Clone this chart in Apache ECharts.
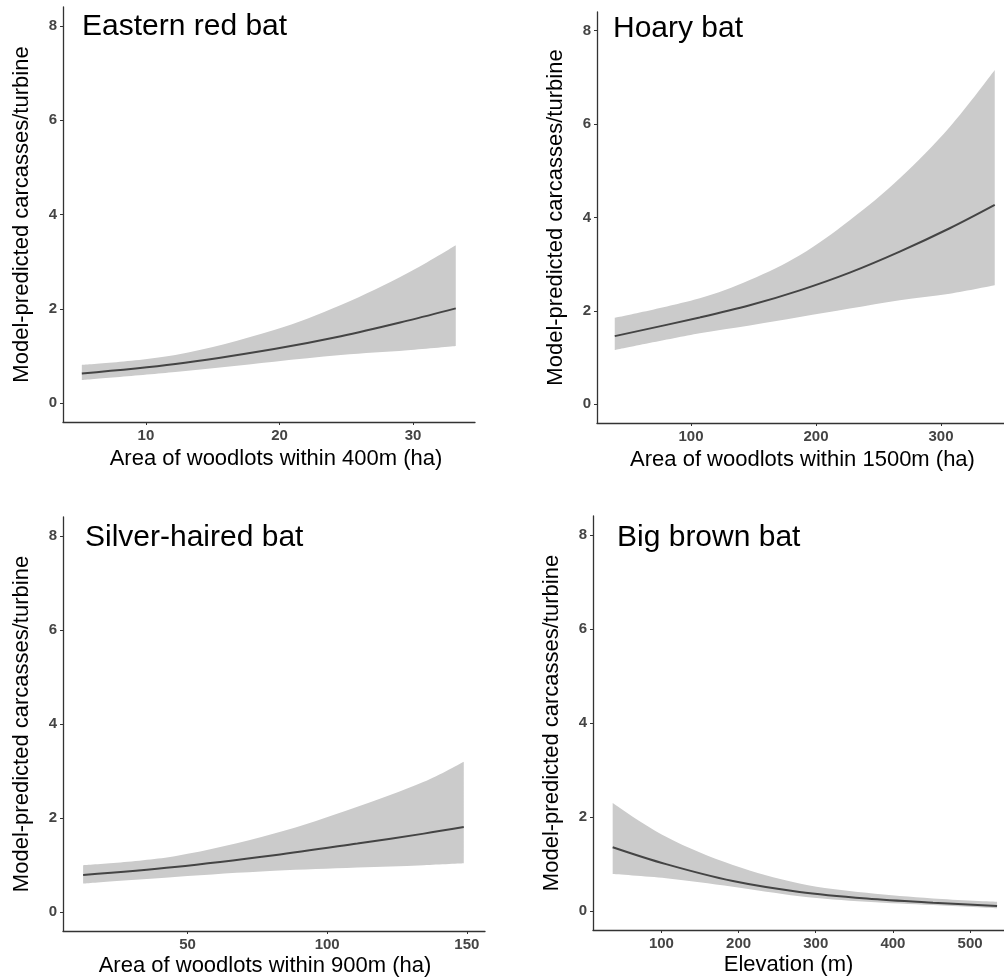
<!DOCTYPE html>
<html>
<head>
<meta charset="utf-8">
<script src="https://cdn.jsdelivr.net/npm/echarts@6/dist/echarts.min.js"></script>
<style>
  html, body { margin: 0; padding: 0; background: #fff; }
  #chart { width: 1004px; height: 980px; }
</style>
</head>
<body>
<div id="chart"></div>
<script>
// panel titles and axis names
var panelTitles = ['Eastern red bat', 'Hoary bat', 'Silver-haired bat', 'Big brown bat'];
var xNames = ['Area of woodlots within 400m (ha)', 'Area of woodlots within 1500m (ha)',
              'Area of woodlots within 900m (ha)', 'Elevation (m)'];
var yName = 'Model-predicted carcasses/turbine';

// tick labels
var yTicks = [0, 2, 4, 6, 8];
var redTicks = [10, 20, 30];
var hoaryTicks = [100, 200, 300];
var silverTicks = [50, 100, 150];
var brownTicks = [100, 200, 300, 400, 500];

// Eastern red bat
var redX    = [5.2, 12.2, 19.6, 24.6, 29.6, 33.2];
var redFit  = [0.63, 0.83, 1.15, 1.42, 1.75, 2.01];
var redLow  = [0.49, 0.66, 0.88, 1.02, 1.12, 1.21];
var redHigh = [0.81, 1.02, 1.55, 2.08, 2.76, 3.35];

// Hoary bat
var hoaryX    = [39, 107, 147, 187, 227, 267, 307, 343];
var hoaryFit  = [1.46, 1.86, 2.12, 2.44, 2.82, 3.27, 3.77, 4.27];
var hoaryLow  = [1.16, 1.52, 1.69, 1.87, 2.05, 2.23, 2.37, 2.55];
var hoaryHigh = [1.85, 2.27, 2.66, 3.19, 3.94, 4.84, 5.94, 7.16];

// Silver-haired bat
var silverX    = [12.6, 45.4, 81, 110.8, 134.6, 148.9];
var silverFit  = [0.79, 0.96, 1.21, 1.46, 1.67, 1.81];
var silverLow  = [0.61, 0.75, 0.88, 0.95, 1.00, 1.04];
var silverHigh = [1.00, 1.19, 1.67, 2.24, 2.77, 3.20];

// Big brown bat
var brownX    = [36.8, 106, 192.6, 279, 366, 452, 535];
var brownFit  = [1.36, 1.00, 0.64, 0.41, 0.27, 0.18, 0.11];
var brownLow  = [0.79, 0.70, 0.52, 0.32, 0.20, 0.13, 0.06];
var brownHigh = [2.30, 1.58, 0.98, 0.59, 0.39, 0.27, 0.20];

var panels = [
  { x: redX, fit: redFit, low: redLow, high: redHigh, ticks: redTicks, min: 3.79, max: 34.64,
    grid: { left: 63, top: 7, width: 412, height: 415 }, nameGap: 26, namePad: [0, 0, 0, 14], title: [82, 12] },
  { x: hoaryX, fit: hoaryFit, low: hoaryLow, high: hoaryHigh, ticks: hoaryTicks, min: 24.8, max: 350.4,
    grid: { left: 597, top: 12, width: 407, height: 411 }, nameGap: 26, namePad: [0, 0, 0, 4], title: [613, 14] },
  { x: silverX, fit: silverFit, low: silverLow, high: silverHigh, ticks: silverTicks, min: 5.4, max: 156.5,
    grid: { left: 63, top: 517, width: 422, height: 414 }, nameGap: 24, namePad: [0, 18, 0, 0], title: [85, 523] },
  { x: brownX, fit: brownFit, low: brownLow, high: brownHigh, ticks: brownTicks, min: 11.3, max: 544,
    grid: { left: 593, top: 516, width: 411, height: 414 }, nameGap: 24, namePad: [0, 20, 0, 0], title: [617, 523] }
];

var font = "'Liberation Sans', Arial, sans-serif";
var axisColor = '#333';

var option = {
  backgroundColor: '#fff',
  animation: false,
  title: [],
  grid: [],
  xAxis: [],
  yAxis: [],
  series: []
};

panels.forEach(function(p, i) {
  option.title.push({
    text: panelTitles[i],
    left: p.title[0],
    top: p.title[1],
    padding: 0,
    textStyle: { fontFamily: font, fontSize: 30, fontWeight: 'normal', color: '#000' }
  });
  option.grid.push(p.grid);
  option.xAxis.push({
    type: 'value',
    gridIndex: i,
    min: p.min,
    max: p.max,
    name: xNames[i],
    nameLocation: 'middle',
    nameGap: p.nameGap,
    nameTextStyle: { fontFamily: font, fontSize: 22, color: '#000', padding: p.namePad },
    axisLine: { show: true, onZero: false, lineStyle: { color: axisColor, width: 1.3 } },
    axisTick: { show: true, length: 3, customValues: p.ticks, lineStyle: { color: axisColor } },
    axisLabel: { customValues: p.ticks, margin: 6, fontFamily: font, fontSize: 15, fontWeight: 'bold', color: '#444' },
    splitLine: { show: false }
  });
  option.yAxis.push({
    type: 'value',
    gridIndex: i,
    min: -0.4,
    max: 8.4,
    name: yName,
    nameLocation: 'middle',
    nameGap: 30,
    nameTextStyle: { fontFamily: font, fontSize: 22, color: '#000' },
    axisLine: { show: true, onZero: false, lineStyle: { color: axisColor, width: 1.3 } },
    axisTick: { show: true, length: 3, customValues: yTicks, lineStyle: { color: axisColor } },
    axisLabel: { customValues: yTicks, margin: 6, fontFamily: font, fontSize: 15, fontWeight: 'bold', color: '#444' },
    splitLine: { show: false }
  });

  // value first so the stack is done on y, x in the second column
  var lowData = [], bandData = [], fitData = [];
  for (var k = 0; k < p.x.length; k++) {
    lowData.push([p.low[k], p.x[k]]);
    bandData.push([p.high[k] - p.low[k], p.x[k]]);
    fitData.push([p.fit[k], p.x[k]]);
  }
  option.series.push({
    type: 'line', xAxisIndex: i, yAxisIndex: i, stack: 'band' + i,
    encode: { x: 1, y: 0 },
    data: lowData, smooth: 0.35, showSymbol: false, symbol: 'none',
    lineStyle: { opacity: 0 }, silent: true
  });
  option.series.push({
    type: 'line', xAxisIndex: i, yAxisIndex: i, stack: 'band' + i,
    encode: { x: 1, y: 0 },
    data: bandData, smooth: 0.35, showSymbol: false, symbol: 'none',
    lineStyle: { opacity: 0 }, areaStyle: { color: '#cbcbcb', opacity: 1 }, silent: true
  });
  option.series.push({
    type: 'line', xAxisIndex: i, yAxisIndex: i,
    encode: { x: 1, y: 0 },
    data: fitData, smooth: 0.35, showSymbol: false, symbol: 'none',
    lineStyle: { color: '#444', width: 2 }, silent: true
  });
});

var myChart = echarts.init(document.getElementById('chart'));
myChart.setOption(option);
</script>
</body>
</html>
